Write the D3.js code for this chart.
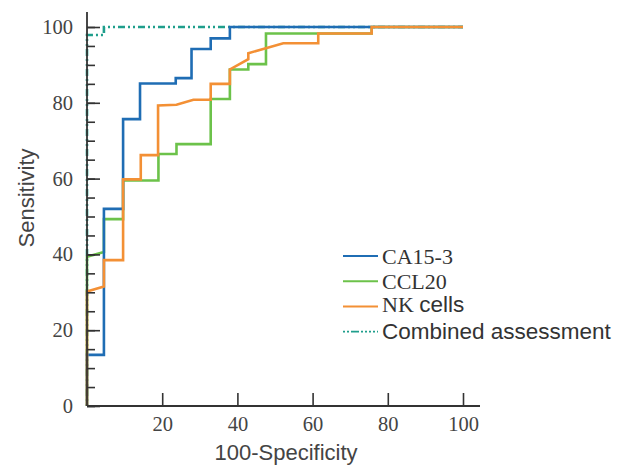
<!DOCTYPE html>
<html>
<head>
<meta charset="utf-8">
<script src="https://cdn.jsdelivr.net/npm/d3@7"></script>
<style>
  body { margin: 0; background: #fff; }
  svg { display: block; }
  .tick text { font-family: "Liberation Serif", "Times New Roman", serif; font-size: 20.5px; fill: #444; }
  .tick line { stroke: #333; stroke-width: 1.6px; }
  .title { font-family: "Liberation Sans", Arial, sans-serif; font-size: 22px; fill: #444; }
  .curve { fill: none; stroke-width: 2.6px; stroke-linejoin: miter; }
</style>
</head>
<body>
<div id="chart"></div>
<script>
// ROC curves: x = 100-Specificity, y = Sensitivity
var xTicks = [20, 40, 60, 80, 100];
var yTicks = [0, 20, 40, 60, 80, 100];
var yMinorTicks = d3.range(0, 101, 5);

var ca153 = [[0,0],[0,13.5],[4.5,13.5],[4.5,52],[9.6,52],[9.6,75.7],[14.1,75.7],[14.1,85.1],
  [23.6,85.1],[23.6,86.5],[27.8,86.5],[27.8,94.2],[32.9,94.2],[32.9,97],[38,97],[38,100],[100,100]];

var ccl20 = [[0,0],[0,39.4],[4.5,40.6],[4.5,49.3],[9.6,49.3],[9.6,59.5],[19,59.5],[19,66.5],
  [23.8,66.5],[23.8,69.1],[32.9,69.1],[32.9,81],[38,81],[38,88.8],[42.9,88.8],[42.9,90.2],
  [47.6,90.2],[47.6,98.3],[75.7,98.3],[75.7,100],[100,100]];

var nkCells = [[0,0],[0,30.2],[4.5,31.5],[4.5,38.5],[9.6,38.5],[9.6,59.8],[14.3,59.8],[14.3,66.2],
  [18.9,66.2],[18.9,79.3],[23.8,79.5],[28.3,80.8],[32.9,80.8],[32.9,85],[38,85],[38,88.8],
  [42.9,91.5],[42.9,93.1],[52.2,95.7],[61.5,95.7],[61.5,98.3],[75.7,98.3],[75.7,100],[100,100]];

var combined = [[0,0],[0,97.9],[4.5,97.9],[4.5,100],[100,100]];

var seriesNames = ['CA15-3', 'CCL20', 'NK cells', 'Combined assessment'];
var seriesColors = ['#1f6db4', '#6cc24a', '#f39035', '#1f9e8c'];

var width = 627, height = 468;
var svg = d3.select('#chart').append('svg')
  .attr('width', width)
  .attr('height', height);

var x = d3.scaleLinear().domain([0, 100]).range([87, 463]);
var y = d3.scaleLinear().domain([0, 100]).range([406, 27]);

var line = d3.line()
  .x(function (d) { return x(d[0]); })
  .y(function (d) { return y(d[1]); });

// draw order: combined underneath, orange on top
var drawOrder = [
  {data: combined, i: 3},
  {data: ccl20, i: 1},
  {data: ca153, i: 0},
  {data: nkCells, i: 2}
];
drawOrder.forEach(function (s) {
  var p = svg.append('path')
    .datum(s.data)
    .attr('class', 'curve')
    .attr('stroke', seriesColors[s.i])
    .attr('d', line);
  if (s.i === 3) p.attr('stroke-dasharray', '2,3,2,3,7,3').attr('stroke-width', 2.2);
});

// minor y ticks
svg.append('g')
  .attr('transform', 'translate(' + x(0) + ',0)')
  .call(d3.axisLeft(y).tickValues(yMinorTicks).tickSizeInner(-8).tickSizeOuter(0).tickFormat(''))
  .call(function (g) { g.select('.domain').remove(); });

// major y ticks
svg.append('g')
  .attr('transform', 'translate(' + x(0) + ',0)')
  .call(d3.axisLeft(y).tickValues(yTicks).tickSizeInner(-13).tickSizeOuter(0).tickPadding(14))
  .call(function (g) { g.select('.domain').remove(); });

// x ticks
svg.append('g')
  .attr('transform', 'translate(0,' + y(0) + ')')
  .call(d3.axisBottom(x).tickValues(xTicks).tickSizeInner(-13).tickSizeOuter(0).tickPadding(10))
  .call(function (g) { g.select('.domain').remove(); });

// axis lines
svg.append('line')
  .attr('x1', x(0)).attr('x2', x(0))
  .attr('y1', y(0)).attr('y2', 12)
  .attr('stroke', '#333').attr('stroke-width', 1.8);
svg.append('line')
  .attr('x1', x(0)).attr('x2', 480)
  .attr('y1', y(0)).attr('y2', y(0))
  .attr('stroke', '#333').attr('stroke-width', 1.8);

// axis titles
svg.append('text')
  .attr('class', 'title')
  .attr('x', 286)
  .attr('y', 460)
  .attr('text-anchor', 'middle')
  .text('100-Specificity');

svg.append('text')
  .attr('class', 'title')
  .attr('transform', 'translate(34,' + 198 + ') rotate(-90)')
  .attr('text-anchor', 'middle')
  .text('Sensitivity');

// legend
var legend = svg.append('g').attr('transform', 'translate(343,256)');
seriesNames.forEach(function (name, i) {
  var g = legend.append('g').attr('transform', 'translate(0,' + (i * 25.2) + ')');
  var ln = g.append('line')
    .attr('x1', 0).attr('x2', 35)
    .attr('stroke', seriesColors[i])
    .attr('stroke-width', 2);
  if (i === 3) ln.attr('stroke-dasharray', '2,2,2,2,8,2,2,2,2,2').attr('stroke-width', 1.8);

  var t = g.append('text')
    .attr('x', 39)
    .attr('dy', '0.35em')
    .attr('fill', '#333');
  if (i < 2) {
    t.style('font-family', '"Liberation Serif", serif').style('font-size', '22px').text(name);
  } else if (i === 2) {
    t.append('tspan').style('font-family', '"Liberation Serif", serif').style('font-size', '22px').text('NK ');
    t.append('tspan').style('font-family', '"Liberation Sans", sans-serif').style('font-size', '22.5px').text('cells');
  } else {
    t.style('font-family', '"Liberation Sans", sans-serif').style('font-size', '22.5px').text(name);
  }
});
</script>
</body>
</html>
